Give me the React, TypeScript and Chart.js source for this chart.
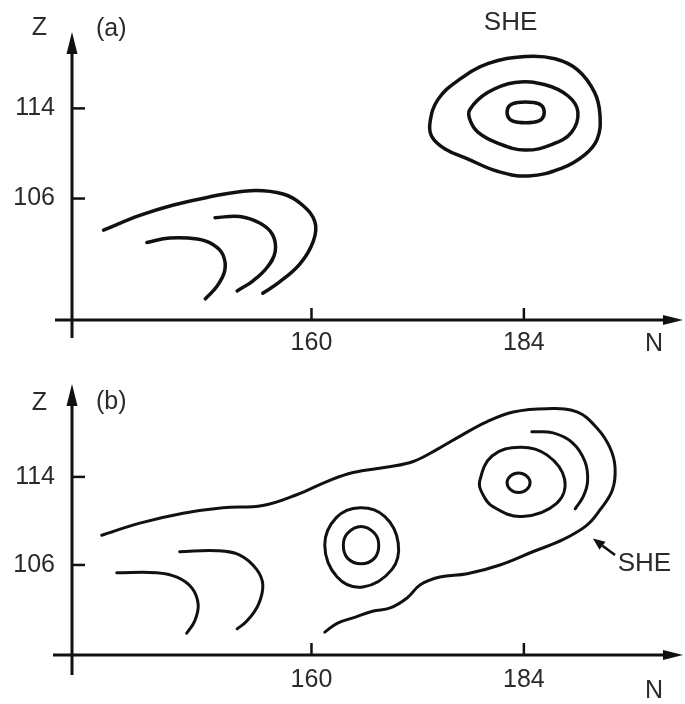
import React, { useEffect, useRef } from "react";
import { Chart, registerables } from "chart.js";

Chart.register(...registerables);

type P = [number, number];

// ---------- axes ----------
const xTickValues = [160, 184];
const yTickValues = [106, 114];
const xRange: P = [132.94, 201.98];
const yRangeA: P = [95.22, 120.78];
const yRangeB: P = [97.82, 122.44];

// ---------- panel (a) contours (N, Z) ----------
const aLeftOuter: P[] = [[136.5,103.2],[140.6,104.5],[144.3,105.4],[148.2,106.1],[153.1,106.7],[156.8,106.4],[159.0,105.4],[160.4,103.9],[160.2,102.2],[158.7,100.2],[156.4,98.6],[154.5,97.6]];
const aLeftMiddle: P[] = [[149.1,104.3],[151.9,104.4],[154.2,103.8],[155.6,102.8],[155.9,101.3],[155.0,99.9],[153.4,98.7],[151.6,97.8]];
const aLeftInner: P[] = [[141.4,102.1],[144.0,102.5],[147.1,102.4],[148.9,101.9],[150.0,101.0],[150.2,99.6],[149.3,98.2],[148.0,97.1]];
const aSheOuter: P[] = [[173.4,112.8],[174.3,114.8],[176.6,116.5],[180.0,118.0],[184.2,118.6],[187.5,118.4],[190.1,117.4],[192.0,115.4],[192.6,113.4],[192.3,111.3],[190.9,109.9],[188.3,108.7],[184.5,108.0],[181.1,108.4],[177.7,109.5],[175.1,110.4],[173.6,111.5]];
const aSheMiddle: P[] = [[177.9,113.9],[179.9,115.4],[183.0,116.3],[186.4,116.1],[189.0,115.1],[190.1,113.7],[189.4,111.9],[187.2,110.8],[184.1,110.3],[181.1,110.9],[178.8,111.9],[177.9,113.0]];
const aSheInner: P[] = [[182.1,113.65],[182.4,114.26],[183.3,114.52],[185.1,114.52],[186.0,114.26],[186.3,113.65],[186.0,113.04],[185.1,112.78],[183.3,112.78],[182.4,113.04]];
const sheLabelA: P = [182.5, 121.6];

// ---------- panel (b) contours ----------
const bEnvelope: P[] = [[136.3,108.7],[140.6,109.8],[145.5,110.7],[150.0,111.2],[154.5,111.4],[158.4,112.4],[161.8,113.6],[164.7,114.4],[168.6,114.9],[171.5,115.4],[174.2,116.5],[177.0,117.8],[179.8,119.0],[182.8,119.9],[186.6,120.2],[190.0,119.9],[192.3,118.4],[193.7,116.7],[194.3,114.9],[194.0,112.8],[192.6,111.0],[191.1,109.6],[188.4,108.3],[185.0,107.2],[181.3,106.0],[177.6,105.2],[174.5,104.9],[172.3,104.2],[170.8,103.0],[168.9,102.1],[166.9,101.8],[164.7,101.2],[162.9,100.7],[161.5,99.9]];
const bArc: P[] = [[184.9,118.1],[187.3,118.0],[189.5,117.1],[190.9,115.4],[191.2,113.6],[190.7,112.2],[189.8,111.1]];
const bRightMiddle: P[] = [[179.0,113.6],[180.4,115.9],[183.6,116.7],[186.6,116.0],[188.6,113.8],[187.7,111.6],[183.8,110.4],[180.5,111.3],[179.3,112.5]];
const bRightInner: P[] = [[182.1,113.47],[182.5,114.09],[183.4,114.36],[184.3,114.09],[184.7,113.47],[184.3,112.84],[183.4,112.58],[182.5,112.84]];
const bLeftMiddle: P[] = [[161.5,107.8],[162.8,110.3],[165.5,111.2],[168.3,110.4],[169.8,108.0],[169.1,105.6],[165.8,104.0],[162.9,104.9]];
const bLeftInner: P[] = [[163.6,107.8],[164.1,108.9],[165.6,109.5],[167.1,108.9],[167.6,107.8],[167.1,106.6],[165.6,106.1],[164.1,106.6]];
const bHookUpper: P[] = [[145.1,107.2],[149.3,107.3],[151.9,106.9],[153.8,105.6],[154.5,104.2],[154.0,102.4],[152.7,100.9],[151.6,100.2]];
const bHookLower: P[] = [[138.0,105.3],[142.5,105.3],[144.8,104.9],[146.5,103.9],[147.2,102.4],[146.8,100.9],[145.9,99.8]];
const sheLabelB: P = [194.6, 106.1];
const sheArrowFromB: P = [194.3, 106.9];
const sheArrowToB: P = [191.8, 108.4];

// ---------- styles ----------
const INK = "#111111";
const TEXT = "#2b2b2b";
const FAMILY = '"Liberation Sans", Arial, Helvetica, sans-serif';

function openSeries(pts: P[], width: number): any {
  return {
    data: pts.map(([x, y]) => ({ x, y })),
    showLine: true,
    borderColor: INK,
    borderWidth: width,
    pointRadius: 0,
    pointHoverRadius: 0,
    tension: 0.4,
    borderCapStyle: "round",
    borderJoinStyle: "round",
    fill: false,
  };
}

function loopSeries(pts: P[], width: number): any {
  const n = pts.length;
  const ext: P[] = [pts[n - 1], ...pts, pts[0], pts[1]];
  const last = ext.length - 1;
  return {
    ...openSeries(ext, width),
    segment: {
      borderColor: (c: any) =>
        c.p0DataIndex === 0 || c.p1DataIndex === last ? "rgba(0,0,0,0)" : undefined,
    },
  };
}

const decorPlugin = {
  id: "decor",
  afterDraw(chart: any, _args: any, o: any) {
    const { ctx, chartArea: ca, scales } = chart;
    const xs = scales.x;
    const ys = scales.y;
    ctx.save();
    ctx.strokeStyle = INK;
    ctx.fillStyle = INK;
    ctx.lineWidth = 3;
    ctx.lineCap = "butt";
    const x0 = ca.left;
    const y0 = ca.bottom;
    // y axis
    ctx.beginPath();
    ctx.moveTo(x0, ca.top + 16);
    ctx.lineTo(x0, y0 + o.yOver);
    ctx.stroke();
    ctx.beginPath();
    ctx.moveTo(x0, ca.top);
    ctx.lineTo(x0 - 5.5, ca.top + 22);
    ctx.lineTo(x0 + 5.5, ca.top + 22);
    ctx.closePath();
    ctx.fill();
    // x axis
    ctx.beginPath();
    ctx.moveTo(x0 - o.xOver, y0);
    ctx.lineTo(ca.right - 14, y0);
    ctx.stroke();
    ctx.beginPath();
    ctx.moveTo(ca.right, y0);
    ctx.lineTo(ca.right - 20, y0 - 5);
    ctx.lineTo(ca.right - 20, y0 + 5);
    ctx.closePath();
    ctx.fill();
    // tick marks
    ctx.lineWidth = 2.5;
    for (const v of yTickValues) {
      const py = ys.getPixelForValue(v);
      ctx.beginPath();
      ctx.moveTo(x0, py);
      ctx.lineTo(x0 + 13, py);
      ctx.stroke();
    }
    for (const v of xTickValues) {
      const px = xs.getPixelForValue(v);
      ctx.beginPath();
      ctx.moveTo(px, y0);
      ctx.lineTo(px, y0 - 12);
      ctx.stroke();
    }
    // texts
    ctx.fillStyle = TEXT;
    ctx.font = `25px ${FAMILY}`;
    ctx.textBaseline = "middle";
    ctx.textAlign = "center";
    ctx.fillText("Z", x0 + o.z[0], ca.top + o.z[1]);
    ctx.textAlign = "left";
    ctx.fillText(o.tag, x0 + o.tagPos[0], ca.top + o.tagPos[1]);
    ctx.textAlign = "center";
    ctx.fillText("N", ca.right + o.n[0], y0 + o.n[1]);
    ctx.font = `26px ${FAMILY}`;
    ctx.textAlign = o.sheAlign;
    ctx.fillText("SHE", xs.getPixelForValue(o.she[0]), ys.getPixelForValue(o.she[1]));
    if (o.arrow) {
      const fx = xs.getPixelForValue(o.arrow[0][0]);
      const fy = ys.getPixelForValue(o.arrow[0][1]);
      const tx = xs.getPixelForValue(o.arrow[1][0]);
      const ty = ys.getPixelForValue(o.arrow[1][1]);
      const ang = Math.atan2(ty - fy, tx - fx);
      const hl = 12;
      const bx = tx - hl * Math.cos(ang);
      const by = ty - hl * Math.sin(ang);
      ctx.strokeStyle = INK;
      ctx.fillStyle = INK;
      ctx.lineWidth = 2.5;
      ctx.beginPath();
      ctx.moveTo(fx, fy);
      ctx.lineTo(bx, by);
      ctx.stroke();
      ctx.beginPath();
      ctx.moveTo(tx, ty);
      ctx.lineTo(bx + 5 * Math.sin(ang), by - 5 * Math.cos(ang));
      ctx.lineTo(bx - 5 * Math.sin(ang), by + 5 * Math.cos(ang));
      ctx.closePath();
      ctx.fill();
    }
    ctx.restore();
  },
};

function buildConfig(p: any): any {
  return {
    type: "scatter",
    data: { datasets: p.datasets },
    options: {
      animation: false,
      responsive: false,
      maintainAspectRatio: false,
      events: [],
      layout: { padding: { top: p.padTop, right: 2, left: 0, bottom: 0 } },
      plugins: {
        legend: { display: false },
        tooltip: { enabled: false },
        decor: p.decor,
      },
      scales: {
        x: {
          type: "linear",
          min: xRange[0],
          max: xRange[1],
          grid: { display: false, drawTicks: false },
          border: { display: false },
          afterBuildTicks: (s: any) => {
            s.ticks = xTickValues.map((v) => ({ value: v }));
          },
          afterFit: (s: any) => {
            s.height = p.xAxisHeight;
          },
          ticks: {
            color: TEXT,
            font: { family: FAMILY, size: 25 },
            padding: p.xTickPad,
            maxRotation: 0,
            autoSkip: false,
            callback: (v: any) => String(v),
          },
        },
        y: {
          type: "linear",
          min: p.yRange[0],
          max: p.yRange[1],
          grid: { display: false, drawTicks: false },
          border: { display: false },
          afterBuildTicks: (s: any) => {
            s.ticks = yTickValues.map((v) => ({ value: v }));
          },
          afterFit: (s: any) => {
            s.width = 72;
          },
          ticks: {
            color: TEXT,
            font: { family: FAMILY, size: 25 },
            padding: 17,
            autoSkip: false,
            callback: (v: any) => String(v),
          },
        },
      },
    },
    plugins: [decorPlugin],
  };
}

export default function App() {
  const refA = useRef<HTMLCanvasElement>(null);
  const refB = useRef<HTMLCanvasElement>(null);

  useEffect(() => {
    const wa = 3.5;
    const wb = 3.0;
    const chartA = new Chart(
      refA.current as HTMLCanvasElement,
      buildConfig({
        padTop: 28,
        xAxisHeight: 30,
        xTickPad: 8,
        yRange: yRangeA,
        datasets: [
          openSeries(aLeftOuter, wa),
          openSeries(aLeftMiddle, wa),
          openSeries(aLeftInner, wa),
          loopSeries(aSheOuter, wa),
          loopSeries(aSheMiddle, wa),
          loopSeries(aSheInner, wa),
        ],
        decor: {
          yOver: 18,
          xOver: 17,
          z: [-32.5, -3.5],
          tag: "(a)",
          tagPos: [24, -2.5],
          n: [-29, 24],
          she: sheLabelA,
          sheAlign: "center",
          arrow: null,
        },
      })
    );
    const chartB = new Chart(
      refB.current as HTMLCanvasElement,
      buildConfig({
        padTop: 26,
        xAxisHeight: 49,
        xTickPad: 10,
        yRange: yRangeB,
        datasets: [
          openSeries(bEnvelope, wb),
          openSeries(bArc, wb),
          loopSeries(bRightMiddle, wb),
          loopSeries(bRightInner, wb),
          loopSeries(bLeftMiddle, wb),
          loopSeries(bLeftInner, wb),
          openSeries(bHookUpper, wb),
          openSeries(bHookLower, wb),
        ],
        decor: {
          yOver: 20,
          xOver: 19,
          z: [-32.5, 19.5],
          tag: "(b)",
          tagPos: [24, 18],
          n: [-29, 36],
          she: sheLabelB,
          sheAlign: "left",
          arrow: [sheArrowFromB, sheArrowToB],
        },
      })
    );
    return () => {
      chartA.destroy();
      chartB.destroy();
    };
  }, []);

  return (
    <div style={{ position: "absolute", left: 0, top: 0, width: 685, height: 704, background: "#fff" }}>
      <canvas ref={refA} width={685} height={352} style={{ display: "block", width: 685, height: 352 }} />
      <canvas ref={refB} width={685} height={352} style={{ display: "block", width: 685, height: 352 }} />
    </div>
  );
}
